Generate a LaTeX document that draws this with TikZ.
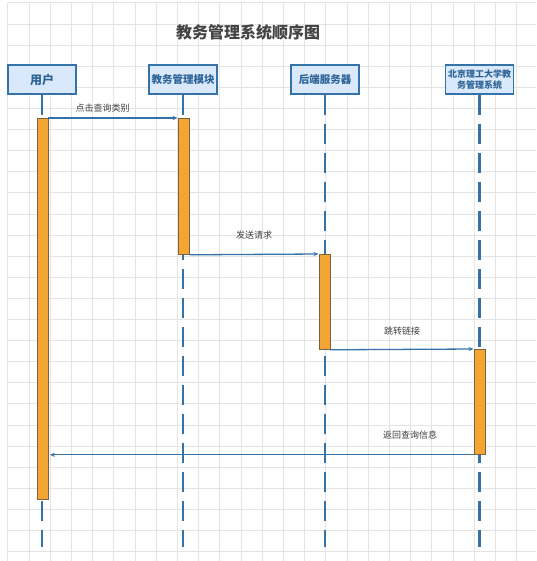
\documentclass[tikz,border=0pt]{standalone}
\usepackage{fontspec}
\setmainfont{Noto Sans CJK SC}
\usetikzlibrary{arrows.meta}
\definecolor{gridgray}{HTML}{E4E4E4}
\definecolor{lineblue}{HTML}{3572A8}
\definecolor{boxfill}{HTML}{DAE8FC}
\definecolor{boxtext}{HTML}{2D6496}
\definecolor{barorange}{HTML}{F5A531}
\definecolor{barborder}{HTML}{7A6440}
\definecolor{titlegray}{HTML}{444444}
\definecolor{labelgray}{HTML}{404040}
\tikzset{
    actor/.style={draw=lineblue,line width=1.6pt,fill=boxfill,text=boxtext,
        font=\fontsize{10.5}{11}\selectfont\bfseries,minimum width=68pt,
        minimum height=29pt,inner sep=1pt,align=center},
    lifeline/.style={draw=lineblue,line width=2.2pt,dash pattern=on 20pt off 9pt},
    activebar/.style={draw=barborder,line width=0.8pt,fill=barorange,
        minimum width=11pt,inner sep=0pt,anchor=north},
    msg/.style={draw=lineblue,line width=1.3pt,-{Stealth[length=5pt,width=4pt]}},
    msglabel/.style={text=labelgray,font=\fontsize{9}{10}\selectfont,inner sep=1pt}
}
\begin{document}
\begin{tikzpicture}[x=1pt,y=-1pt]
    \useasboundingbox (0,0) rectangle (536,561);
    \fill[white] (0,0) rectangle (536,561);
    % grid
    \foreach \k in {0,...,24}
        \draw[gridgray,line width=0.8pt] (7.8+21.2*\k,2.9) -- (7.8+21.2*\k,561);
    \foreach \k in {0,...,26}
        \draw[gridgray,line width=0.8pt] (7.8,2.9+21.1*\k) -- (536,2.9+21.1*\k);

    \node[text=titlegray,font=\fontsize{16}{18}\selectfont\bfseries] (title) at (248,32) {教务管理系统顺序图};

    % participants
    \node[actor,font=\fontsize{12}{13}\selectfont\bfseries] (user) at (42,79.5) {用户};
    \node[actor] (module) at (183,79.5) {教务管理模块};
    \node[actor] (server) at (325,79.5) {后端服务器};
    \node[actor,font=\fontsize{9}{11.5}\selectfont\bfseries] (bit) at (479.5,79.5) {北京理工大学教\\务管理系统};

    % lifelines
    \foreach \p in {user,module,server,bit} {
        \coordinate (\p end) at ([yshift=-452pt]\p.south);
        \draw[lifeline] (\p.south) -- (\p end);
    }

    % activation bars
    \node[activebar,minimum height=381pt] (userbar) at (42.5,118) {};
    \node[activebar,minimum height=136pt] (modulebar) at (183.5,118) {};
    \node[activebar,minimum height=95pt] (serverbar) at (324.5,254) {};
    \node[activebar,minimum height=105pt] (bitbar) at (479.5,349) {};

    % messages
    \draw[msg] (userbar.north east) -- (modulebar.north west)
        node[msglabel,pos=0.42,above=4pt] (m1) {点击查询类别};
    \draw[msg] (modulebar.south east) -- (serverbar.north west)
        node[msglabel,midway,above=14pt] (m2) {发送请求};
    \draw[msg] (serverbar.south east) -- (bitbar.north west)
        node[msglabel,midway,above=13pt] (m3) {跳转链接};
    \draw[msg] (bitbar.south west) -- ([xshift=1.5pt]userbar.east |- bitbar.south west)
        node[msglabel,pos=0.15,above=14pt] (m4) {返回查询信息};
\end{tikzpicture}
\end{document}
